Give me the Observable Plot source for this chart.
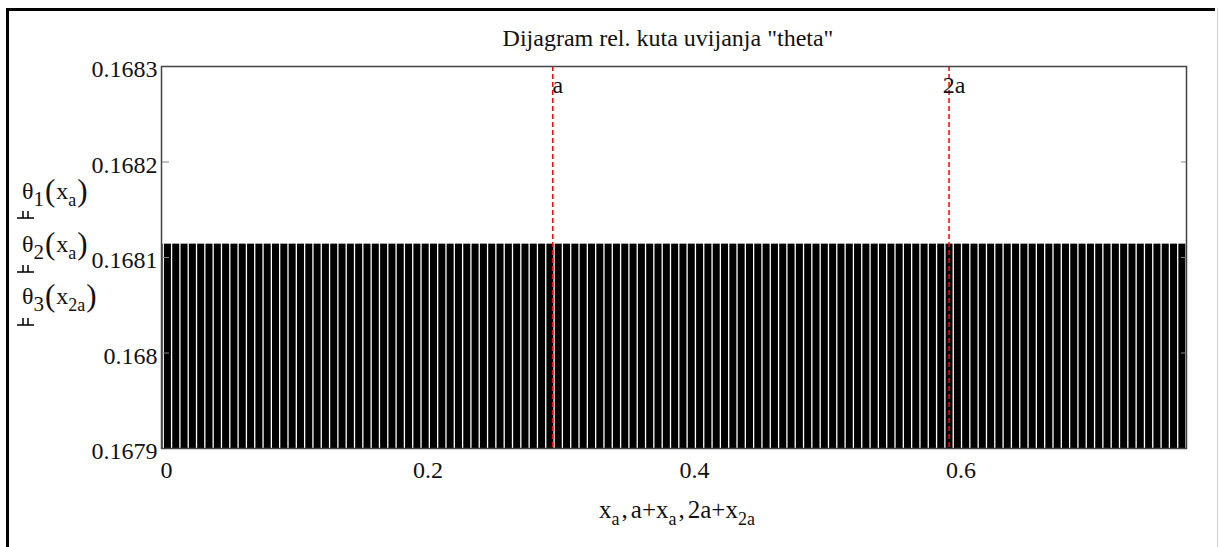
<!DOCTYPE html>
<html><head><meta charset="utf-8">
<script src="https://cdn.jsdelivr.net/npm/d3@7"></script>
<script src="https://cdn.jsdelivr.net/npm/@observablehq/plot@0.6"></script>
<style>
body{margin:0;background:#fff;}
#wrap{position:relative;width:1219px;height:547px;overflow:hidden;font-family:"Liberation Serif","Times New Roman",serif;color:#111;background:#fff;}
#border{position:absolute;left:6px;top:8px;width:1206px;height:600px;border-left:3px solid #000;border-top:3px solid #000;}
#rborder{position:absolute;left:1217px;top:8px;width:1px;height:600px;background:#ccc;}
#chart{position:absolute;left:0;top:0;}
.ov{position:absolute;font-size:24px;line-height:24px;white-space:nowrap;font-family:"Liberation Serif","Times New Roman",serif;}
#title{left:668px;top:26px;transform:translateX(-50%);}
#xlabel{left:677px;top:498px;transform:translateX(-50%);font-size:25px;}
.sub{font-size:18px;position:relative;top:7px;}
.subn{font-size:21px;position:relative;top:7px;}
.par{font-size:31px;position:relative;top:2px;margin:0 1px;}
.cm{margin:0 3px 0 2px;}
.sym{position:absolute;left:17px;display:block;overflow:visible;}
</style></head><body>
<div id="wrap">
  <div id="border"></div>
  <div id="rborder"></div>
  <div id="chart"></div>
  <div class="ov" id="title">Dijagram rel. kuta uvijanja "theta"</div>
  <div class="ov" style="left:22px;top:177px">θ<span class="subn">1</span><span class="par">(</span>x<span class="sub">a</span><span class="par">)</span></div>
  <svg class="sym" width="17" height="8" style="top:211px"><path d="M0,7H17M6,0V7M11,0V7" stroke="#000" stroke-width="1.5" fill="none"/></svg>
  <div class="ov" style="left:22px;top:230px">θ<span class="subn">2</span><span class="par">(</span>x<span class="sub">a</span><span class="par">)</span></div>
  <svg class="sym" width="17" height="8" style="top:265px"><path d="M0,7H17M6,0V7M11,0V7" stroke="#000" stroke-width="1.5" fill="none"/></svg>
  <div class="ov" style="left:22px;top:282px">θ<span class="subn">3</span><span class="par">(</span>x<span class="sub">2a</span><span class="par">)</span></div>
  <svg class="sym" width="17" height="8" style="top:318px"><path d="M0,7H17M6,0V7M11,0V7" stroke="#000" stroke-width="1.5" fill="none"/></svg>
  <div class="ov" id="xlabel">x<span class="sub">a</span><span class="cm">,</span>a+x<span class="sub">a</span><span class="cm">,</span>2a+x<span class="sub">2a</span></div>
</div>
<script>
// Bar left edges (x) for each trace
const xa1 = [-0.00454, 0.0017, 0.00794, 0.01418, 0.02042, 0.02666, 0.0329, 0.03914, 0.04538, 0.05162, 0.05786,
  0.0641, 0.07034, 0.07658, 0.08282, 0.08906, 0.0953, 0.10154, 0.10778, 0.11402, 0.12026,
  0.1265, 0.13274, 0.13898, 0.14522, 0.15146, 0.1577, 0.16394, 0.17018, 0.17642, 0.18266,
  0.1889, 0.19514, 0.20138, 0.20762, 0.21386, 0.2201, 0.22634, 0.23258, 0.23882, 0.24506,
  0.2513, 0.25754, 0.26378, 0.27002, 0.27626, 0.2825, 0.28874];
const xa2 = [0.29498, 0.30122, 0.30746, 0.3137, 0.31994, 0.32618, 0.33242, 0.33866, 0.3449, 0.35114,
  0.35738, 0.36362, 0.36986, 0.3761, 0.38234, 0.38858, 0.39482, 0.40106, 0.4073, 0.41354,
  0.41978, 0.42602, 0.43226, 0.4385, 0.44474, 0.45098, 0.45722, 0.46346, 0.4697, 0.47594,
  0.48218, 0.48842, 0.49466, 0.5009, 0.50714, 0.51338, 0.51962, 0.52586, 0.5321, 0.53834,
  0.54458, 0.55082, 0.55706, 0.5633, 0.56954, 0.57578, 0.58202];
const xa3 = [0.58826, 0.5945, 0.60074, 0.60698, 0.61322, 0.61946, 0.6257, 0.63194, 0.63818, 0.64442,
  0.65066, 0.6569, 0.66314, 0.66938, 0.67562, 0.68186, 0.6881, 0.69434, 0.70058, 0.70682,
  0.71306, 0.7193, 0.72554, 0.73178, 0.73802, 0.74426, 0.7505, 0.75674, 0.76298];
// Values of each trace (constant)
const theta1 = 0.168114;
const theta2 = 0.168114;
const theta3 = 0.168114;
const xEnd = 0.7692;
const yMin = 0.1679, yMax = 0.1683;
const yTicks = [0.1679, 0.168, 0.1681, 0.1682, 0.1683];
const yTickLabels = ["0.1679", "0.168", "0.1681", "0.1682", "0.1683"];
const xTicks = [0, 0.2, 0.4, 0.6];
const xTickLabels = ["0", "0.2", "0.4", "0.6"];
const markers = [0.2936, 0.591];
const markerLabels = ["a", "2a"];

const starts = [...xa1.map(x => ({x, v: theta1})), ...xa2.map(x => ({x, v: theta2})), ...xa3.map(x => ({x, v: theta3}))];
const bars = starts.map((d, i) => ({x1: d.x, x2: i + 1 < starts.length ? starts[i + 1].x : xEnd, v: d.v}));
const xfmt = d => xTickLabels[xTicks.indexOf(d)];
const yfmt = d => yTickLabels[yTicks.indexOf(d)];

const chart = Plot.plot({
  width: 1219, height: 547,
  marginLeft: 161, marginRight: 33, marginTop: 66, marginBottom: 99,
  x: {domain: [0, xEnd]},
  y: {domain: [yMin, yMax]},
  style: {fontFamily: "'Liberation Serif','Times New Roman',serif", fontSize: "24px", color: "#111", background: "transparent", overflow: "visible"},
  marks: [
    Plot.rectY(bars, {x1: "x1", x2: "x2", y1: yMin, y2: "v", fill: "#000", insetLeft: 0.65, insetRight: 0.65, clip: true}),
    Plot.ruleX(markers, {x: d => d, stroke: "#ff0000", strokeWidth: 1.5, strokeDasharray: "5,3"}),
    Plot.text(markers, {x: d => d, text: (d, i) => markerLabels[i], frameAnchor: "top", lineAnchor: "top", textAnchor: "middle", dx: 5, dy: 9, fontSize: 24, fill: "#111"}),
    Plot.axisY(yTicks, {anchor: "left", tickSize: 0, tickPadding: 4, tickFormat: yfmt, dy: 3, fontSize: 24, label: null}),
    Plot.axisY(yTicks, {anchor: "left", tickSize: 8, dx: 8, tickFormat: () => "", stroke: "#888", label: null}),
    Plot.axisY(yTicks, {anchor: "right", tickSize: 6, dx: -6, tickFormat: () => "", stroke: "#888", label: null}),
    Plot.axisX([xTicks[0]], {anchor: "bottom", tickSize: 0, tickPadding: 12, tickFormat: xfmt, textAnchor: "start", dx: -1, fontSize: 24, label: null}),
    Plot.axisX(xTicks.slice(1), {anchor: "bottom", tickSize: 0, tickPadding: 12, tickFormat: xfmt, fontSize: 24, label: null}),
    Plot.frame({stroke: "#444", strokeWidth: 1.5})
  ]
});
document.getElementById("chart").appendChild(chart);
</script>
</body></html>
